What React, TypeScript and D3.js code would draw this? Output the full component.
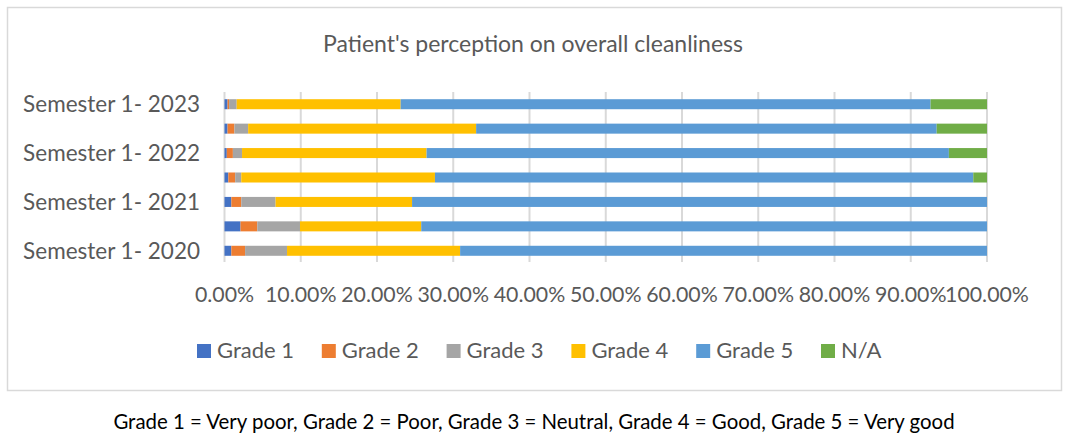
import React from "react";
import * as d3 from "d3";

const categories = [
  "Semester 1- 2023",
  "Semester 2- 2022",
  "Semester 1- 2022",
  "Semester 2- 2021",
  "Semester 1- 2021",
  "Semester 2- 2020",
  "Semester 1- 2020",
];
const shownLabels = ["Semester 1- 2023", "Semester 1- 2022", "Semester 1- 2021", "Semester 1- 2020"];

const seriesNames = ["Grade 1", "Grade 2", "Grade 3", "Grade 4", "Grade 5", "N/A"];
const grade1 = [0.4, 0.4, 0.3, 0.5, 0.9, 2.1, 0.9];
const grade2 = [0.2, 0.9, 0.8, 0.9, 1.3, 2.2, 1.8];
const grade3 = [1.0, 1.8, 1.2, 0.8, 4.5, 5.6, 5.5];
const grade4 = [21.5, 29.9, 24.2, 25.4, 17.9, 15.9, 22.7];
const grade5 = [69.5, 60.4, 68.5, 70.6, 75.4, 74.2, 69.1];
const notApplicable = [7.4, 6.6, 5.0, 1.8, 0, 0, 0];
const colors = ["#4472C4", "#ED7D31", "#A5A5A5", "#FFC000", "#5B9BD5", "#70AD47"];
const ticks = [0, 10, 20, 30, 40, 50, 60, 70, 80, 90, 100];

const title = "Patient's perception on overall cleanliness";
const caption =
  "Grade 1 = Very poor, Grade 2 = Poor, Grade 3 = Neutral, Grade 4 = Good, Grade 5 = Very good";

const W = 1069;
const H = 443;
const FONT = "Lato, 'Open Sans', sans-serif";
const TEXT = "#595959";

export default function App() {
  const seriesValues = [grade1, grade2, grade3, grade4, grade5, notApplicable];
  const table = categories.map((c, i) => {
    const row: Record<string, any> = { category: c };
    seriesNames.forEach((s, j) => (row[s] = seriesValues[j][i]));
    return row;
  });
  const stacked = d3.stack<any>().keys(seriesNames)(table);

  const x = d3.scaleLinear().domain([0, 100]).range([224.5, 987]);
  const y = d3.scaleBand<string>().domain(categories).range([92, 263]).paddingInner(0.59).paddingOuter(0.295);
  const color = d3.scaleOrdinal<string, string>().domain(seriesNames).range(colors);

  return (
    <svg
      width={W}
      height={H}
      style={{ position: "absolute", left: 0, top: 0, background: "#fff" }}
      fontFamily={FONT}
    >
      <rect x={7.5} y={7.5} width={1054} height={383} fill="#fff" stroke="#D9D9D9" strokeWidth={1.5} />
      <text x={533} y={52} textAnchor="middle" fontSize={23} fill={TEXT}>
        {title}
      </text>

      {ticks.map((t) => (
        <line key={"g" + t} x1={x(t)} x2={x(t)} y1={92} y2={262} stroke="#D9D9D9" strokeWidth={2} />
      ))}

      {stacked.map((s) => (
        <g key={s.key} fill={color(s.key)}>
          {s.map((d, i) => (
            <rect
              key={i}
              x={x(d[0])}
              y={y(categories[i])}
              width={Math.max(0, x(d[1]) - x(d[0]))}
              height={y.bandwidth()}
            />
          ))}
        </g>
      ))}

      {ticks.map((t) => (
        <text key={"t" + t} x={x(t)} y={302} textAnchor="middle" fontSize={21.3} fill={TEXT}>
          {t.toFixed(2) + "%"}
        </text>
      ))}

      {shownLabels.map((c) => (
        <text
          key={c}
          x={200}
          y={(y(c) as number) + y.bandwidth() / 2}
          dy="0.36em"
          textAnchor="end"
          fontSize={22.5}
          fill={TEXT}
        >
          {c}
        </text>
      ))}

      {seriesNames.map((s, i) => {
        const lx = 197 + i * 124.8;
        return (
          <g key={"l" + s}>
            <rect x={lx} y={344} width={14} height={14} fill={color(s)} />
            <text x={lx + 20} y={358} fontSize={22} fill={TEXT}>
              {s}
            </text>
          </g>
        );
      })}

      <text x={534} y={429} textAnchor="middle" fontSize={20.4} fill="#000">
        {caption}
      </text>
    </svg>
  );
}
